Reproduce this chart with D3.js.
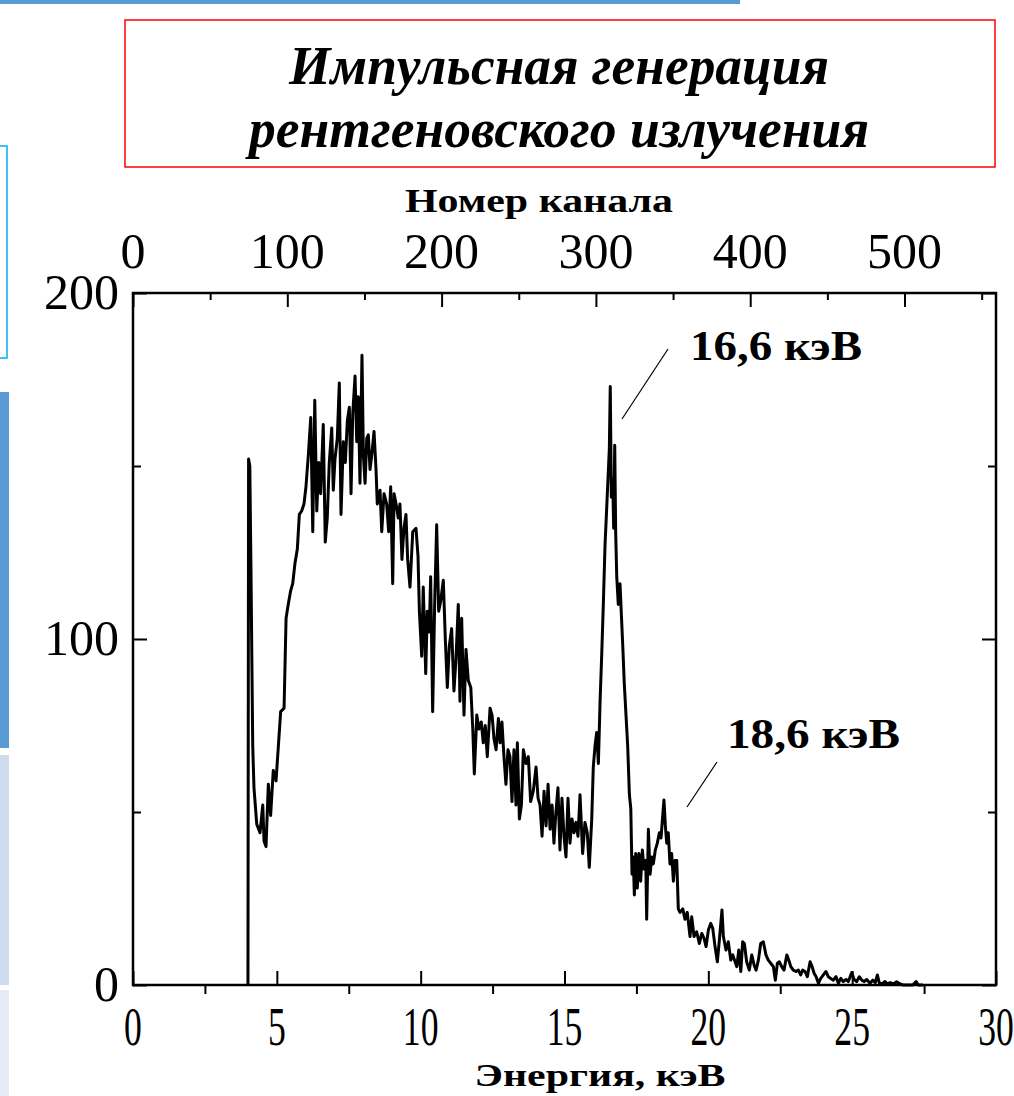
<!DOCTYPE html>
<html><head><meta charset="utf-8">
<script src="https://cdn.jsdelivr.net/npm/d3@7"></script>
<style>html,body{margin:0;padding:0;background:#fff;overflow:hidden}</style>
</head><body>
<script>
// ---- data ----
const titleLines = ["Импульсная генерация", "рентгеновского излучения"];
const topAxisTitle = "Номер канала";
const bottomAxisTitle = "Энергия, кэВ";
const energyTicks = [0, 5, 10, 15, 20, 25, 30];
const energyMinorTicks = [2.5, 7.5, 12.5, 17.5, 22.5, 27.5];
const channelTicks = [0, 100, 200, 300, 400, 500];
const channelMinorTicks = [50, 150, 250, 350, 450, 550];
const countTicks = [0, 100, 200];
const countMinorTicks = [50, 150];
const keVPerChannel = 0.05364;
const peakLabels = ["16,6 кэВ", "18,6 кэВ"];
const peakEnergies = [16.6, 18.6];

const channels = [74.5,74.9,75.7,76.5,76.9,77.6,78.4,80.2,82.3,84.1,84.9,86.2,87.7,89.2,90.9,92.7,94.2,95.7,97.9,99.2,
100.6,102.2,103.5,105.0,106.5,107.8,109.3,110.8,112.1,113.6,115.2,116.5,117.8,119.1,120.4,121.6,123.3,124.6,125.9,127.2,
128.8,129.8,130.9,132.4,133.7,134.8,136.3,137.6,138.9,140.2,141.3,142.4,143.9,145.0,146.0,147.1,148.4,149.3,150.4,151.5,
152.5,153.6,154.7,156.2,157.5,158.3,160.1,161.2,162.7,164.4,165.7,167.0,168.3,169.2,170.5,171.9,173.0,174.3,175.6,176.9,
178.0,179.5,181.3,183.4,184.7,185.6,187.1,188.1,189.7,190.7,192.0,192.9,194.2,195.5,196.8,198.1,199.4,201.1,202.4,203.7,
205.0,206.5,208.0,209.3,210.8,211.9,213.0,214.5,215.8,217.3,218.9,220.2,221.2,222.8,224.2,225.7,227.0,228.3,229.6,231.4,
232.7,234.0,235.3,236.8,237.9,239.1,240.4,241.7,243.0,244.3,245.6,246.9,248.2,249.1,250.4,251.7,253.0,254.7,256.2,257.7,
259.4,261.2,262.5,263.8,265.1,266.4,267.7,269.0,270.3,271.6,272.8,274.1,275.4,276.7,278.0,279.3,280.6,281.9,283.2,284.5,
285.8,287.1,288.4,289.7,291.4,292.9,294.4,295.7,297.3,298.3,299.4,300.5,301.6,302.7,303.8,304.8,305.9,307.0,307.8,308.7,
309.3,310.0,310.9,311.5,312.2,312.8,313.5,314.5,315.6,316.5,317.4,318.4,319.5,320.6,321.7,322.6,323.4,324.2,324.9,325.8,
326.8,327.9,329.0,330.1,331.2,332.3,332.9,334.0,335.1,336.2,337.2,338.5,339.8,341.1,342.2,343.3,344.1,345.0,345.9,346.9,
348.0,349.1,350.2,351.3,352.4,353.4,354.5,356.3,357.7,359.2,361.0,362.1,363.6,365.3,367.0,368.6,370.1,371.4,372.9,374.4,
375.7,377.2,378.7,380.0,381.7,382.6,384.3,385.8,387.4,388.7,390.2,391.3,392.6,393.9,395.1,396.2,397.7,399.4,401.0,402.5,
403.8,405.3,406.8,408.5,410.2,411.7,413.3,415.0,416.3,417.6,418.9,420.4,421.9,423.7,425.0,426.3,427.9,429.7,431.2,432.7,
434.0,435.5,437.0,438.8,440.1,441.4,442.7,444.2,445.7,447.4,449.1,450.6,452.2,453.9,455.6,457.1,458.7,460.3,462.1,463.6,
465.8,467.3,469.0,470.7,472.3,473.8,475.5,477.6,479.4,481.1,482.4,483.7,485.4,487.4,488.9,490.6,492.7,494.9,497.1,499.2,
502.5,505.3,507.5,508.9,512.0];

const counts = [0,152,150,118,100,69,57,46.5,44,52,41.6,40,58,49,62,59,69,79,80,106,
110,114,116,122,126,136,137,139,144,153,164,131,169,137,151,142,162,128,135,151,
161,143,152,158,174,136,157,151,163,167,142,165,176,157,170,145,182,153,145,158,
159,149,153,160,149,139,143,131,142,139,131,144,116,142,139,135,139,123,132,136,
123,115,131,132,124,108,95,115,90,108,102,118,79,110,133,108,111,117,100,86,
98,103,85,94,110,82,106,78,97,88,86,74,61,78,74,76,70,75,66,80,
78,71,68,77,70,76,66,58,68,66,53,68,52,70,48,52,68,64,66,53,
56,63,54,52,43,56,46,58,45,52,41,50,57,39,54,43,37,54,41,48,
44,47,43,55,38,47,44,34,48,63,69,73,64,82,96,110,127,138,146,155,
173,141,146,132,156,131,118,110,116,107,98,87,78,69,55,51,32,37,26,38,
28,38,30,39,33.5,36,19,45,32,37,35,39,41,44,42.5,49,53.5,46,41,44,
35,38,30,36,36,22,21,22,19,21,14,19.7,14,15.4,12,14.9,13.5,11.1,15.9,17.8,
16.4,11.1,6.7,13,21.7,14,10.1,12.5,7.2,8.7,6.7,5.3,10.1,3.9,12.5,12,6.7,4.3,8.7,5.8,
4.3,7.2,12,12.5,8.7,7.2,6.3,5.3,1.4,6.3,6.7,5.3,4.3,8.7,7.2,5.3,4.3,3.9,4.3,2.9,
4.3,3.9,2.4,6.7,5.3,3.4,2.4,0.5,1.9,2.9,3.9,2.4,1.9,1.4,2.4,0.5,1.9,1,1.6,1,
3.6,1.6,1,2.4,1.4,1,1.6,0.5,1.4,0.7,2.9,0.5,0.3,1,0.3,0.7,0.3,0.9,0.3,0,
0,0,1,0,0];

// ---- drawing ----
const W = 1014, H = 1096;
const svg = d3.select("body").append("svg").attr("width", W).attr("height", H);
const serif = "Liberation Serif";

// slide decorations
svg.append("rect").attr("x", 0).attr("y", 0).attr("width", 740).attr("height", 4).attr("fill", "#5b9bd5");
svg.append("rect").attr("x", -2).attr("y", 146).attr("width", 9).attr("height", 212)
  .attr("fill", "none").attr("stroke", "#00b0f0").attr("stroke-width", 1.5);
svg.append("rect").attr("x", 0).attr("y", 392).attr("width", 9).attr("height", 356).attr("fill", "#5b9bd5");
svg.append("rect").attr("x", 0).attr("y", 755).attr("width", 9).attr("height", 230).attr("fill", "#cfdbef");
svg.append("rect").attr("x", 0).attr("y", 990).attr("width", 9).attr("height", 106).attr("fill", "#e6ecf7");

// title box
svg.append("rect").attr("x", 125).attr("y", 20).attr("width", 870).attr("height", 147)
  .attr("fill", "none").attr("stroke", "#ff0000").attr("stroke-width", 1.5);
const titleBaselines = [84, 147];
const titleWidths = [540, 620];
titleLines.forEach((t, i) => {
  svg.append("text").attr("x", 559).attr("y", titleBaselines[i])
    .attr("text-anchor", "middle").style("font-family", serif)
    .style("font-style", "italic").style("font-weight", "bold").style("font-size", "54px")
    .attr("textLength", titleWidths[i]).attr("lengthAdjust", "spacingAndGlyphs")
    .text(t);
});

// scales
const pL = 133, pR = 996, pT = 293, pB = 985;
const x = d3.scaleLinear().domain([0, 30]).range([pL, pR]);
const xc = d3.scaleLinear().domain([0, 30 / keVPerChannel]).range([pL, pR]);
const y = d3.scaleLinear().domain([0, 200]).range([pB, pT]);

const tickStyle = g => {
  g.select(".domain").remove();
  g.selectAll("line").attr("stroke", "#000").attr("stroke-width", 2);
  g.selectAll("text").remove();
};

// bottom axis: major inward, minor outward
svg.append("g").attr("transform", `translate(0,${pB})`)
  .call(d3.axisBottom(x).tickValues(energyTicks).tickSize(-14).tickFormat("")).call(tickStyle);
svg.append("g").attr("transform", `translate(0,${pB})`)
  .call(d3.axisBottom(x).tickValues(energyMinorTicks).tickSize(9).tickFormat("")).call(tickStyle);
// top axis (channels)
svg.append("g").attr("transform", `translate(0,${pT})`)
  .call(d3.axisTop(xc).tickValues(channelTicks).tickSize(-14).tickFormat("")).call(tickStyle);
svg.append("g").attr("transform", `translate(0,${pT})`)
  .call(d3.axisTop(xc).tickValues(channelMinorTicks).tickSize(-7).tickFormat("")).call(tickStyle);
// left / right
svg.append("g").attr("transform", `translate(${pL},0)`)
  .call(d3.axisLeft(y).tickValues(countTicks).tickSize(-14).tickFormat("")).call(tickStyle);
svg.append("g").attr("transform", `translate(${pL},0)`)
  .call(d3.axisLeft(y).tickValues(countMinorTicks).tickSize(-8).tickFormat("")).call(tickStyle);
svg.append("g").attr("transform", `translate(${pR},0)`)
  .call(d3.axisRight(y).tickValues(countTicks).tickSize(-14).tickFormat("")).call(tickStyle);
svg.append("g").attr("transform", `translate(${pR},0)`)
  .call(d3.axisRight(y).tickValues(countMinorTicks).tickSize(-8).tickFormat("")).call(tickStyle);

// frame
svg.append("rect").attr("x", pL).attr("y", pT).attr("width", pR - pL).attr("height", pB - pT)
  .attr("fill", "none").attr("stroke", "#000").attr("stroke-width", 2.5);

// data line
const pts = channels.map((c, i) => [c, counts[i]]);
const line = d3.line().x(d => xc(d[0])).y(d => y(d[1]));
svg.append("path").datum(pts).attr("d", line)
  .attr("fill", "none").attr("stroke", "#000").attr("stroke-width", 3).attr("stroke-linejoin", "round");

// tick labels
svg.selectAll(".ylab").data(countTicks).join("text")
  .attr("x", 119).attr("y", d => y(d) + 16).attr("text-anchor", "end")
  .style("font-family", serif).style("font-size", "50px").text(d => d);
svg.selectAll(".tlab").data(channelTicks).join("text")
  .attr("x", d => xc(d)).attr("y", 268).attr("text-anchor", "middle")
  .style("font-family", serif).style("font-size", "50px").text(d => d);
svg.selectAll(".blab").data(energyTicks).join("text")
  .attr("transform", d => `translate(${x(d)},1045) scale(0.66,1)`).attr("text-anchor", "middle")
  .style("font-family", serif).style("font-size", "54px").text(d => d);

// axis titles
svg.append("text").attr("x", 539).attr("y", 212).attr("text-anchor", "middle")
  .style("font-family", serif).style("font-weight", "bold").style("font-size", "34px")
  .attr("textLength", 268).attr("lengthAdjust", "spacingAndGlyphs").text(topAxisTitle);
svg.append("text").attr("x", 600).attr("y", 1086).attr("text-anchor", "middle")
  .style("font-family", serif).style("font-weight", "bold").style("font-size", "32px")
  .attr("textLength", 251).attr("lengthAdjust", "spacingAndGlyphs").text(bottomAxisTitle);

// peak annotations
const annPos = [{tx: 690, ty: 360, w: 172, l: [[622, 419], [668, 349]]},
                {tx: 727, ty: 748, w: 173, l: [[687, 807], [717, 762]]}];
peakLabels.forEach((t, i) => {
  const a = annPos[i];
  svg.append("text").attr("x", a.tx).attr("y", a.ty)
    .style("font-family", serif).style("font-weight", "bold").style("font-size", "42px")
    .attr("textLength", a.w).attr("lengthAdjust", "spacingAndGlyphs").text(t);
  svg.append("line").attr("x1", a.l[0][0]).attr("y1", a.l[0][1]).attr("x2", a.l[1][0]).attr("y2", a.l[1][1])
    .attr("stroke", "#000").attr("stroke-width", 1.2);
});
</script>
</body></html>
